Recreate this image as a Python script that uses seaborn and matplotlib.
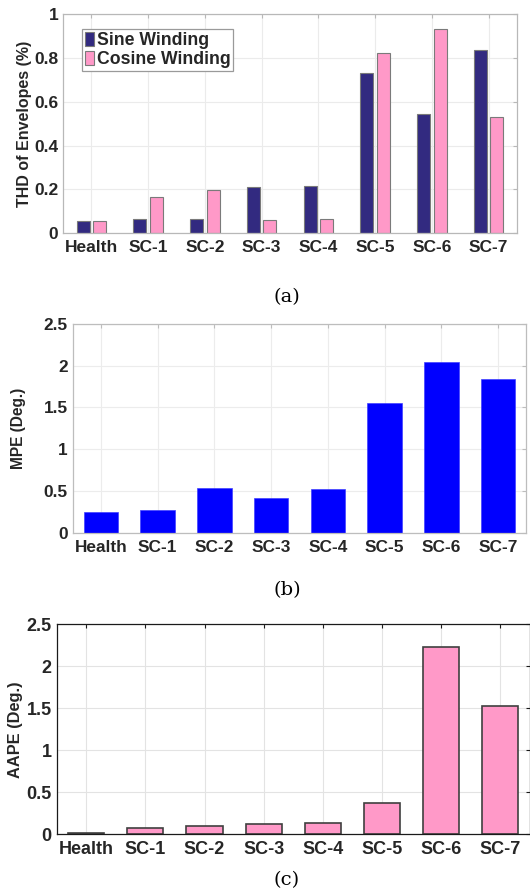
import numpy as np
import pandas as pd
import matplotlib
matplotlib.use("Agg")
import matplotlib.pyplot as plt
import seaborn as sns

# fault conditions shared by all three panels
conditions = ["Health", "SC-1", "SC-2", "SC-3", "SC-4", "SC-5", "SC-6", "SC-7"]

# (a) THD of envelopes (%)
thd_sine = [0.056, 0.067, 0.065, 0.211, 0.214, 0.733, 0.544, 0.836]
thd_cosine = [0.056, 0.166, 0.198, 0.061, 0.064, 0.824, 0.930, 0.532]
windings = ["Sine Winding", "Cosine Winding"]

# (b) MPE (deg.)
mpe = [0.248, 0.272, 0.531, 0.411, 0.519, 1.557, 2.045, 1.841]

# (c) AAPE (deg.)
aape = [0.016, 0.075, 0.095, 0.123, 0.139, 0.377, 2.234, 1.528]

ticks_a = ["0", "0.2", "0.4", "0.6", "0.8", "1"]
ticks_bc = ["0", "0.5", "1", "1.5", "2", "2.5"]

sns.set_style("white")
plt.rcParams["font.family"] = ["Liberation Sans", "DejaVu Sans"]
plt.rcParams["font.weight"] = "bold"

txt = "#262626"
navy = "#322a80"
pink = "#ff99c8"

df_a = pd.DataFrame({
    "cond": conditions * 2,
    "winding": [windings[0]] * 8 + [windings[1]] * 8,
    "value": thd_sine + thd_cosine,
})
df_b = pd.DataFrame({"cond": conditions, "value": mpe})
df_c = pd.DataFrame({"cond": conditions, "value": aape})

fig = plt.figure(figsize=(5.3, 8.9), dpi=100)


def style_axes(ax, spine_col, grid_col, yticks, ylabels, fs):
    ax.set_axisbelow(True)
    ax.grid(True, color=grid_col, linewidth=0.8)
    for s in ax.spines.values():
        s.set_visible(True)
        s.set_color(spine_col)
        s.set_linewidth(0.9)
    ax.set_xlim(-0.5, 7.5)
    ax.set_yticks(yticks)
    ax.set_yticklabels(ylabels)
    ax.tick_params(direction="in", length=3, width=0.8, color=spine_col,
                   top=True, right=True, labelsize=fs, labelcolor=txt)
    ax.tick_params(axis="x", pad=5)
    ax.tick_params(axis="y", pad=3.5)
    for lab in ax.get_xticklabels() + ax.get_yticklabels():
        lab.set_fontweight("bold")
    ax.set_xlabel("")


# ---- (a) ----
ax1 = fig.add_axes([0.1189, 0.7379, 0.8566, 0.2464])
sns.barplot(data=df_a, x="cond", y="value", hue="winding", palette=[navy, pink],
            saturation=1, width=0.58, gap=0.2, edgecolor="#7a7a7a", linewidth=0.8,
            errorbar=None, ax=ax1)
ax1.set_ylim(0, 1)
style_axes(ax1, "#b8b8b8", "#ebebeb", np.arange(0, 1.01, 0.2), ticks_a, 12.5)
ax1.set_ylabel("THD of Envelopes (%)", fontsize=11.5, fontweight="bold", color=txt)
ax1.yaxis.set_label_coords(-0.068, 0.5)
h, l = ax1.get_legend_handles_labels()
ax1.legend(h, l, loc="upper left", bbox_to_anchor=(0.042, 0.932),
           prop={"weight": "bold", "size": 12.7}, frameon=True, fancybox=False,
           edgecolor="#9a9a9a", framealpha=1, handlelength=0.55, handleheight=0.85,
           handletextpad=0.15, labelspacing=0.15, borderpad=0.15, borderaxespad=0)
ax1.get_legend().get_frame().set_linewidth(0.9)

# ---- (b) ----
ax2 = fig.add_axes([0.1368, 0.4015, 0.8564, 0.2345])
sns.barplot(data=df_b, x="cond", y="value", color="#0000ff", saturation=1,
            width=0.61, edgecolor="#4040ff", linewidth=0.5, errorbar=None, ax=ax2)
ax2.set_ylim(0, 2.5)
style_axes(ax2, "#bdbdbd", "#ececec", np.arange(0, 2.51, 0.5), ticks_bc, 12.4)
ax2.set_ylabel("MPE (Deg.)", fontsize=11.2, fontweight="bold", color=txt)
ax2.yaxis.set_label_coords(-0.1035, 0.5)

# ---- (c) ----
ax3 = fig.add_axes([0.1068, 0.0626, 0.893, 0.236])
sns.barplot(data=df_c, x="cond", y="value", color=pink, saturation=1,
            width=0.61, edgecolor="#3f3f3f", linewidth=1.2, errorbar=None, ax=ax3)
ax3.set_ylim(0, 2.5)
style_axes(ax3, "#1a1a1a", "#e3e3e3", np.arange(0, 2.51, 0.5), ticks_bc, 13)
ax3.set_ylabel("AAPE (Deg.)", fontsize=11.8, fontweight="bold", color=txt)
ax3.yaxis.set_label_coords(-0.07, 0.5)

# captions
for label, ypix in [("(a)", 297), ("(b)", 590), ("(c)", 880)]:
    fig.text(287 / 530, 1 - ypix / 890, label, ha="center", va="center",
             fontsize=14, fontweight="normal", family="DejaVu Serif", color="black")

fig.savefig("out.png", dpi=100)
